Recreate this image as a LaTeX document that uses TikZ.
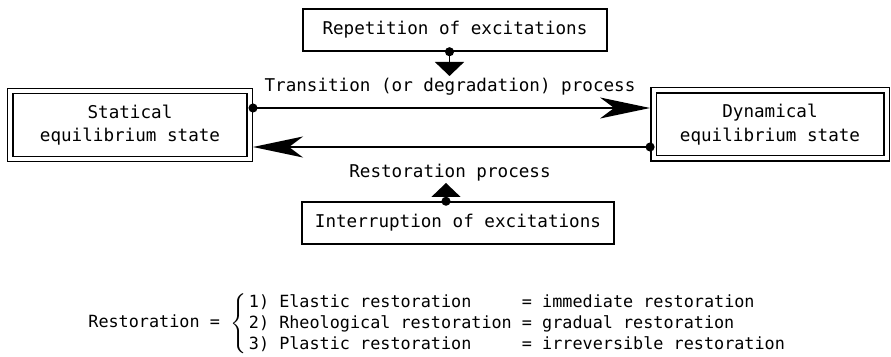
\documentclass[tikz,border=0pt]{standalone}
\usepackage{fontspec}
\setmonofont{DejaVu Sans Mono}
\usetikzlibrary{arrows.meta}
\begin{document}
\ttfamily\fontsize{8.8pt}{10.5pt}\selectfont
\begin{tikzpicture}[x=.5pt,y=-.5pt,
	statebox/.style={draw,double,double distance=2pt,line width=.7pt,outer sep=1.7pt,align=center,minimum height=34pt},
	excbox/.style={draw,line width=.75pt,minimum height=21pt},
	bigarrow/.style={line width=.75pt,{Circle[length=4.5pt]}-{Stealth[length=25pt,width=10.5pt,inset=7pt]},shorten <=-2.25pt},
	smallarrow/.style={line width=.75pt,{Circle[length=4.5pt]}-{Triangle[length=7pt,width=14.5pt]},shorten <=-2.25pt}]
		\useasboundingbox (0,0) rectangle (891,357);

		\node[statebox,minimum width=119.6pt] (stat) at (130,125){Statical\\[1.2pt]equilibrium state};
		\node[statebox,minimum width=116.5pt] (dyn) at (770,124.5){Dynamical\\[1.2pt]equilibrium state};

		\node[excbox,minimum width=152pt] (rep) at (455,30){Repetition of excitations};
		\node[excbox,minimum width=156pt] (intr) at (458,223){Interruption of excitations};

		\node (trans) at (450,87){Transition (or degradation) process};
		\node (restp) at (450,173){Restoration process};

		\coordinate (downtip) at (449.5,76);
		\coordinate (uptip) at (446,183);

		\draw[bigarrow] ([yshift=8.5pt]stat.east) -- ([yshift=8.5pt]stat.east -| dyn.west);
		\draw[bigarrow] ([yshift=-11.25pt]dyn.west) -- ([yshift=-11.25pt]dyn.west -| stat.east);
		\draw[smallarrow] (rep.south -| downtip) -- (downtip);
		\draw[smallarrow] (intr.north -| uptip) -- (uptip);

		\node[anchor=west,inner sep=0,font=\fontsize{8.4pt}{10.6pt}\selectfont] (restdef) at (88,324){Restoration = $\left\{\begin{tabular}{@{\,}l@{\ }l@{}}1) Elastic restoration & = immediate restoration\\2) Rheological restoration & = gradual restoration\\3) Plastic restoration & = irreversible restoration\end{tabular}\right.$};
	\end{tikzpicture}
\end{document}
